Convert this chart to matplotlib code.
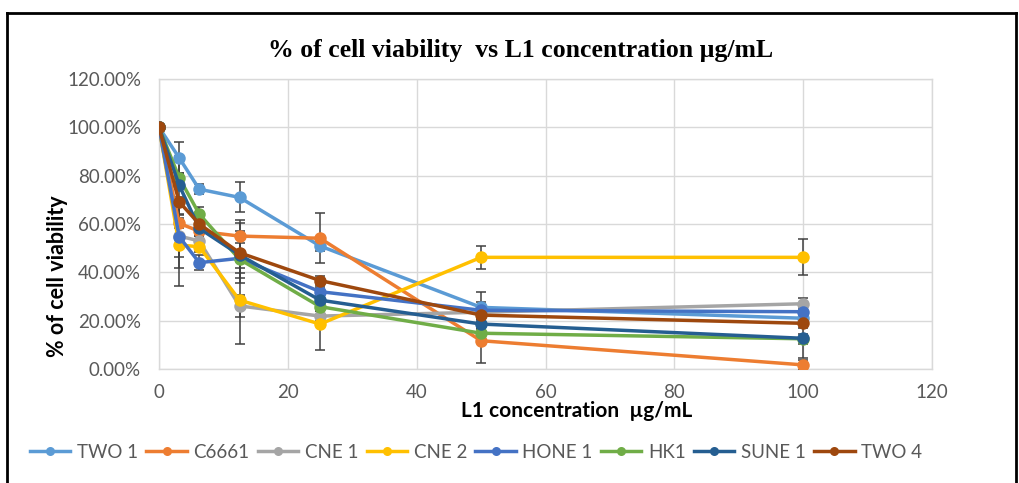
import matplotlib
matplotlib.use("Agg")
import matplotlib.pyplot as plt
from matplotlib.lines import Line2D
from matplotlib.ticker import FuncFormatter, MultipleLocator

# Concentrations of L1 (µg/mL)
conc = [0, 3.125, 6.25, 12.5, 25, 50, 100]

# Cell viability (%) per cell line
two1 = [100, 87.4, 74.4, 71.0, 50.9, 25.5, 21.0]
c6661 = [100, 60.3, 57.0, 55.0, 54.1, 11.7, 1.7]
cne1 = [100, 55.0, 53.0, 26.1, 21.9, 23.5, 27.0]
cne2 = [100, 51.3, 50.6, 28.5, 18.6, 46.2, 46.2]
hone1 = [100, 54.8, 44.0, 45.8, 32.0, 24.3, 23.7]
hk1 = [100, 79.2, 64.1, 45.4, 25.8, 14.8, 12.5]
sune1 = [100, 76.1, 58.2, 47.2, 28.5, 18.6, 12.7]
two4 = [100, 69.2, 60.0, 48.1, 36.6, 22.3, 18.9]

# Standard deviations (%)
two1_err = [0, 6.4, 2.0, 6.2, 2.0, 6.2, 2.0]
c6661_err = [0, 2.0, 2.0, 6.6, 10.3, 9.1, 2.0]
cne1_err = [0, 8.6, 2.0, 4.4, 2.0, 2.0, 2.2]
cne2_err = [0, 17.0, 2.0, 18.0, 10.7, 4.8, 7.5]
hone1_err = [0, 13.0, 3.0, 6.2, 2.0, 3.5, 2.0]
hk1_err = [0, 2.0, 3.1, 3.7, 2.0, 2.0, 2.0]
sune1_err = [0, 12.0, 2.0, 9.7, 2.0, 2.0, 8.3]
two4_err = [0, 2.0, 2.0, 12.4, 2.0, 2.0, 2.0]

labels = ["TWO 1", "C6661", "CNE 1", "CNE 2", "HONE 1", "HK1", "SUNE 1", "TWO 4"]
values = [two1, c6661, cne1, cne2, hone1, hk1, sune1, two4]
errors = [two1_err, c6661_err, cne1_err, cne2_err, hone1_err, hk1_err, sune1_err, two4_err]
colors = ["#5B9BD5", "#ED7D31", "#A5A5A5", "#FFC000",
          "#4472C4", "#70AD47", "#255E91", "#9E480E"]

sans = ["Lato", "DejaVu Sans"]
serif = ["Liberation Serif", "DejaVu Serif"]

W, H = 1019, 483
fig = plt.figure(figsize=(W / 100, H / 100), dpi=100)
fig.patch.set_facecolor("white")

ax = fig.add_axes([159 / W, 1 - 369 / H, (932 - 159) / W, (369 - 79) / H])

for i, (lab, vals, err, col) in enumerate(zip(labels, values, errors, colors)):
    ax.errorbar(conc, vals, yerr=err, fmt="none", ecolor="#404040",
                elinewidth=1.1, capsize=3.6, capthick=1.1, zorder=3 + i * 0.1)
    ax.plot(conc, vals, color=col, lw=2.5, marker="o", markersize=9,
            markeredgewidth=0, label=lab, zorder=4 + i * 0.1)

ax.set_xlim(0, 120)
ax.set_ylim(0, 120)
ax.xaxis.set_major_locator(MultipleLocator(20))
ax.yaxis.set_major_locator(MultipleLocator(20))
ax.yaxis.set_major_formatter(FuncFormatter(lambda v, p: f"{v:.2f}%"))
ax.grid(True, color="#D9D9D9", lw=1.0, zorder=0)
ax.set_axisbelow(True)
for s in ax.spines.values():
    s.set_color("#D9D9D9")
    s.set_linewidth(1.0)
ax.tick_params(length=0, labelcolor="#595959", labelsize=13.5)
ax.tick_params(axis="y", pad=13)
ax.tick_params(axis="x", pad=11)
for t in ax.get_xticklabels() + ax.get_yticklabels():
    t.set_family(sans)

fig.text(521 / W, 1 - 50 / H, "% of cell viability  vs L1 concentration µg/mL",
         ha="center", va="center", fontsize=18.5, fontweight="bold",
         family=serif)
fig.text(58 / W, 1 - 276 / H, "% of cell viability", rotation=90,
         ha="center", va="center", fontsize=15.5, fontweight="bold", family=sans)
fig.text(577 / W, 1 - 411 / H, "L1 concentration  µg/mL",
         ha="center", va="center", fontsize=15, fontweight="bold", family=sans)

handles = [Line2D([0], [0], color=c, lw=2.5, marker="o", markersize=6.5,
                  markeredgewidth=0) for c in colors]
fig.legend(handles, labels, loc="center left", bbox_to_anchor=(30 / W, 1 - 452 / H),
           ncol=8, frameon=False, handlelength=2.15, handletextpad=0.35,
           columnspacing=0.45, borderaxespad=0, borderpad=0,
           prop={"family": sans, "size": 13.5}, labelcolor="#595959")

# chart frame
frame_kw = dict(color="black", lw=2.0, transform=fig.transFigure, clip_on=False)
fig.add_artist(Line2D([7 / W, 7 / W], [0, 1 - 13 / H], **frame_kw))
fig.add_artist(Line2D([7 / W, 1016 / W], [1 - 13 / H, 1 - 13 / H], **frame_kw))
fig.add_artist(Line2D([1016 / W, 1016 / W], [0, 1 - 13 / H], **frame_kw))

fig.savefig("out.png", dpi=100, facecolor="white")
